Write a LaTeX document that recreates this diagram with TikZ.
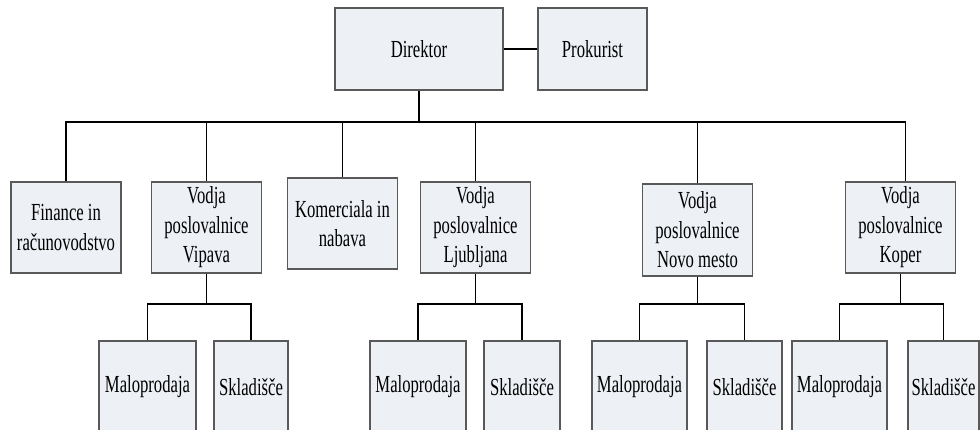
\documentclass[tikz,border=0pt]{standalone}
\usepackage{fontspec}
\setmainfont{Liberation Serif}[FakeStretch=0.68]
\definecolor{boxfill}{HTML}{EDF0F5}
\tikzset{
	unit/.style={draw=black!65, fill=boxfill, line width=1.1pt, minimum width=110pt, minimum height=91pt, inner sep=0pt, align=center, font=\fontsize{24.5}{29.5}\selectfont},
	shop/.style={unit, minimum height=92pt},
	link/.style={line width=1.3pt}
}
\begin{document}
\begin{tikzpicture}[x=1pt, y=-1pt]
			\useasboundingbox (0,0) rectangle (980,430);
			\clip (0,0) rectangle (980,430);
			\node[unit, minimum width=168pt, minimum height=82pt] (direktor) at (419,49) {Direktor};
			\node[unit, minimum width=109pt, minimum height=82pt] (prokurist) at (592.5,49) {Prokurist};
			\draw[link] (direktor) -- (prokurist);
			
			\node[unit] (finance) at (66,227.5) {Finance in\\računovodstvo};
			\node[unit] (vodjaVipava) at (206.5,227.5) {Vodja\\poslovalnice\\Vipava};
			\node[unit] (komerciala) at (342.5,223.5) {Komerciala in\\nabava};
			\node[unit] (vodjaLjubljana) at (475.5,227.5) {Vodja\\poslovalnice\\Ljubljana};
			\node[unit, minimum height=92pt] (vodjaNovoMesto) at (697.5,230) {Vodja\\poslovalnice\\Novo mesto};
			\node[unit] (vodjaKoper) at (900.5,227.5) {Vodja\\poslovalnice\\Koper};
			
			\coordinate (busTop) at (419,122);
			\draw[link] (direktor) -- (busTop);
			\draw[link] (busTop) -| (finance);
			\draw[link] (busTop) -| (vodjaVipava);
			\draw[link] (busTop) -| (komerciala);
			\draw[link] (busTop) -| (vodjaLjubljana);
			\draw[link] (busTop) -| (vodjaNovoMesto);
			\draw[link] (busTop) -| ([xshift=5pt]vodjaKoper.north);
			
			\node[shop, minimum width=97pt] (maloVipava) at (147.5,387) {Maloprodaja};
			\node[shop, minimum width=74pt] (skladVipava) at (251,387) {Skladišče};
			\node[shop, minimum width=96pt] (maloLjubljana) at (418,387) {Maloprodaja};
			\node[shop, minimum width=76pt] (skladLjubljana) at (522,387) {Skladišče};
			\node[shop, minimum width=95pt] (maloNovoMesto) at (639.5,387) {Maloprodaja};
			\node[shop, minimum width=75pt] (skladNovoMesto) at (744.5,387) {Skladišče};
			\node[shop, minimum width=95pt] (maloKoper) at (839.5,387) {Maloprodaja};
			\node[shop, minimum width=71pt] (skladKoper) at (943.5,387) {Skladišče};
			
			\coordinate (busVipava) at (206.5,304);
			\draw[link] (vodjaVipava) -- (busVipava);
			\draw[link] (busVipava) -| (maloVipava);
			\draw[link] (busVipava) -| (skladVipava);
			
			\coordinate (busLjubljana) at (475.5,304);
			\draw[link] (vodjaLjubljana) -- (busLjubljana);
			\draw[link] (busLjubljana) -| (maloLjubljana);
			\draw[link] (busLjubljana) -| (skladLjubljana);
			
			\coordinate (busNovoMesto) at (697.5,304);
			\draw[link] (vodjaNovoMesto) -- (busNovoMesto);
			\draw[link] (busNovoMesto) -| (maloNovoMesto);
			\draw[link] (busNovoMesto) -| (skladNovoMesto);
			
			\coordinate (busKoper) at (900.5,304);
			\draw[link] (vodjaKoper) -- (busKoper);
			\draw[link] (busKoper) -| (maloKoper);
			\draw[link] (busKoper) -| (skladKoper);
		\end{tikzpicture}
\end{document}
